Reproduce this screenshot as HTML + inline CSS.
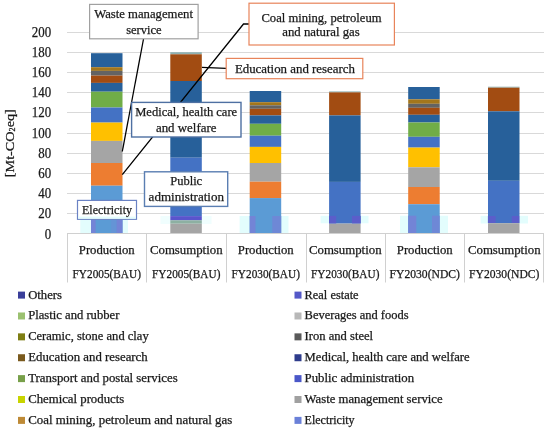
<!DOCTYPE html>
<html><head><meta charset="utf-8"><style>
html,body{margin:0;padding:0;background:#fff;}
body{width:550px;height:431px;overflow:hidden;}
svg{display:block;font-family:"Liberation Serif", serif;}
text{stroke:#1a1a1a;stroke-width:0.25px;}
svg{will-change:transform;}
</style></head><body>
<svg width="550" height="431" viewBox="0 0 550 431">
<rect width="550" height="431" fill="#fff"/>
<line x1="67" y1="213.5" x2="544" y2="213.5" stroke="#D9D9D9" stroke-width="1"/>
<line x1="67" y1="193.5" x2="544" y2="193.5" stroke="#D9D9D9" stroke-width="1"/>
<line x1="67" y1="173.5" x2="544" y2="173.5" stroke="#D9D9D9" stroke-width="1"/>
<line x1="67" y1="153.5" x2="544" y2="153.5" stroke="#D9D9D9" stroke-width="1"/>
<line x1="67" y1="133.5" x2="544" y2="133.5" stroke="#D9D9D9" stroke-width="1"/>
<line x1="67" y1="112.5" x2="544" y2="112.5" stroke="#D9D9D9" stroke-width="1"/>
<line x1="67" y1="92.5" x2="544" y2="92.5" stroke="#D9D9D9" stroke-width="1"/>
<line x1="67" y1="72.5" x2="544" y2="72.5" stroke="#D9D9D9" stroke-width="1"/>
<line x1="67" y1="52.5" x2="544" y2="52.5" stroke="#D9D9D9" stroke-width="1"/>
<line x1="67" y1="32.5" x2="544" y2="32.5" stroke="#D9D9D9" stroke-width="1"/>
<text x="51.2" y="238.7" font-size="13.6" text-anchor="end" fill="#1a1a1a" textLength="6.45" lengthAdjust="spacingAndGlyphs">0</text>
<text x="51.2" y="217.7" font-size="13.6" text-anchor="end" fill="#1a1a1a" textLength="12.9" lengthAdjust="spacingAndGlyphs">20</text>
<text x="51.2" y="197.7" font-size="13.6" text-anchor="end" fill="#1a1a1a" textLength="12.9" lengthAdjust="spacingAndGlyphs">40</text>
<text x="51.2" y="177.7" font-size="13.6" text-anchor="end" fill="#1a1a1a" textLength="12.9" lengthAdjust="spacingAndGlyphs">60</text>
<text x="51.2" y="157.7" font-size="13.6" text-anchor="end" fill="#1a1a1a" textLength="12.9" lengthAdjust="spacingAndGlyphs">80</text>
<text x="51.2" y="137.7" font-size="13.6" text-anchor="end" fill="#1a1a1a" textLength="19.35" lengthAdjust="spacingAndGlyphs">100</text>
<text x="51.2" y="116.7" font-size="13.6" text-anchor="end" fill="#1a1a1a" textLength="19.35" lengthAdjust="spacingAndGlyphs">120</text>
<text x="51.2" y="96.7" font-size="13.6" text-anchor="end" fill="#1a1a1a" textLength="19.35" lengthAdjust="spacingAndGlyphs">140</text>
<text x="51.2" y="76.7" font-size="13.6" text-anchor="end" fill="#1a1a1a" textLength="19.35" lengthAdjust="spacingAndGlyphs">160</text>
<text x="51.2" y="56.7" font-size="13.6" text-anchor="end" fill="#1a1a1a" textLength="19.35" lengthAdjust="spacingAndGlyphs">180</text>
<text x="51.2" y="36.7" font-size="13.6" text-anchor="end" fill="#1a1a1a" textLength="19.35" lengthAdjust="spacingAndGlyphs">200</text>
<rect x="80.30" y="219.30" width="47.70" height="14.00" fill="#E3FDFD"/>
<rect x="160.50" y="216.00" width="51.00" height="8.00" fill="#F0FEFE"/>
<rect x="239.60" y="216.00" width="48.90" height="17.30" fill="#E3FDFD"/>
<rect x="320.60" y="215.80" width="47.90" height="7.50" fill="#E3FDFD"/>
<rect x="400.00" y="215.70" width="48.00" height="17.60" fill="#E3FDFD"/>
<rect x="480.60" y="215.80" width="47.40" height="7.70" fill="#E3FDFD"/>
<rect x="91.00" y="53.20" width="31.50" height="14.00" fill="#27609A"/>
<rect x="91.00" y="67.20" width="31.50" height="3.70" fill="#A3761C"/>
<rect x="91.00" y="70.90" width="31.50" height="4.70" fill="#636363"/>
<rect x="91.00" y="75.60" width="31.50" height="7.30" fill="#A24C12"/>
<rect x="91.00" y="82.90" width="31.50" height="8.80" fill="#27609A"/>
<rect x="91.00" y="91.70" width="31.50" height="15.80" fill="#70AD47"/>
<rect x="91.00" y="107.50" width="31.50" height="15.10" fill="#4472C4"/>
<rect x="91.00" y="122.60" width="31.50" height="18.30" fill="#FFC000"/>
<rect x="91.00" y="140.90" width="31.50" height="22.10" fill="#A5A5A5"/>
<rect x="91.00" y="163.00" width="31.50" height="22.70" fill="#ED7D31"/>
<rect x="91.00" y="185.70" width="31.50" height="47.80" fill="#5B9BD5"/>
<rect x="170.30" y="52.20" width="31.50" height="2.10" fill="#8FB0B0"/>
<rect x="170.30" y="54.30" width="31.50" height="26.70" fill="#A24C12"/>
<rect x="170.30" y="81.00" width="31.50" height="76.70" fill="#27609A"/>
<rect x="170.30" y="157.70" width="31.50" height="58.40" fill="#4472C4"/>
<rect x="170.30" y="216.10" width="31.50" height="4.20" fill="#5A54CC"/>
<rect x="170.30" y="220.30" width="31.50" height="3.40" fill="#8DB0A2"/>
<rect x="170.30" y="223.70" width="31.50" height="9.80" fill="#A5A5A5"/>
<rect x="249.70" y="91.00" width="31.50" height="11.20" fill="#27609A"/>
<rect x="249.70" y="102.20" width="31.50" height="3.10" fill="#A3761C"/>
<rect x="249.70" y="105.30" width="31.50" height="3.50" fill="#636363"/>
<rect x="249.70" y="108.80" width="31.50" height="6.60" fill="#A24C12"/>
<rect x="249.70" y="115.40" width="31.50" height="8.40" fill="#27609A"/>
<rect x="249.70" y="123.80" width="31.50" height="11.90" fill="#70AD47"/>
<rect x="249.70" y="135.70" width="31.50" height="11.20" fill="#4472C4"/>
<rect x="249.70" y="146.90" width="31.50" height="16.10" fill="#FFC000"/>
<rect x="249.70" y="163.00" width="31.50" height="18.70" fill="#A5A5A5"/>
<rect x="249.70" y="181.70" width="31.50" height="16.40" fill="#ED7D31"/>
<rect x="249.70" y="198.10" width="31.50" height="35.40" fill="#5B9BD5"/>
<rect x="329.10" y="91.40" width="31.50" height="1.00" fill="#8FB0B0"/>
<rect x="329.10" y="92.40" width="31.50" height="23.00" fill="#A24C12"/>
<rect x="329.10" y="115.40" width="31.50" height="66.50" fill="#27609A"/>
<rect x="329.10" y="181.90" width="31.50" height="41.70" fill="#4472C4"/>
<rect x="329.10" y="223.60" width="31.50" height="9.90" fill="#A5A5A5"/>
<rect x="408.20" y="87.00" width="31.50" height="12.30" fill="#27609A"/>
<rect x="408.20" y="99.30" width="31.50" height="4.50" fill="#A3761C"/>
<rect x="408.20" y="103.80" width="31.50" height="4.00" fill="#636363"/>
<rect x="408.20" y="107.80" width="31.50" height="7.00" fill="#A24C12"/>
<rect x="408.20" y="114.80" width="31.50" height="7.70" fill="#27609A"/>
<rect x="408.20" y="122.50" width="31.50" height="14.30" fill="#70AD47"/>
<rect x="408.20" y="136.80" width="31.50" height="10.80" fill="#4472C4"/>
<rect x="408.20" y="147.60" width="31.50" height="19.70" fill="#FFC000"/>
<rect x="408.20" y="167.30" width="31.50" height="19.70" fill="#A5A5A5"/>
<rect x="408.20" y="187.00" width="31.50" height="17.20" fill="#ED7D31"/>
<rect x="408.20" y="204.20" width="31.50" height="29.30" fill="#5B9BD5"/>
<rect x="488.00" y="86.70" width="31.50" height="1.00" fill="#8FB0B0"/>
<rect x="488.00" y="87.70" width="31.50" height="23.60" fill="#A24C12"/>
<rect x="488.00" y="111.30" width="31.50" height="69.50" fill="#27609A"/>
<rect x="488.00" y="180.80" width="31.50" height="42.40" fill="#4472C4"/>
<rect x="488.00" y="223.20" width="31.50" height="10.30" fill="#A5A5A5"/>
<rect x="91.00" y="219.30" width="4.60" height="14.20" fill="#7384D6"/>
<rect x="111.20" y="219.30" width="5.30" height="14.20" fill="#6494D6"/>
<rect x="116.50" y="219.30" width="6.00" height="14.20" fill="#7384D6"/>
<rect x="249.70" y="216.00" width="5.80" height="17.50" fill="#7384D6"/>
<rect x="272.30" y="216.00" width="8.90" height="17.50" fill="#6E88D6"/>
<rect x="329.00" y="215.90" width="7.20" height="7.50" fill="#5B5ECA"/>
<rect x="352.00" y="215.90" width="8.70" height="7.50" fill="#5B5ECA"/>
<rect x="408.20" y="215.70" width="8.10" height="17.80" fill="#7384D6"/>
<rect x="432.00" y="215.70" width="7.70" height="17.80" fill="#6E88D6"/>
<rect x="487.90" y="216.00" width="7.70" height="7.00" fill="#5B5ECA"/>
<rect x="511.80" y="216.00" width="7.40" height="7.00" fill="#5B5ECA"/>
<line x1="67" y1="233.5" x2="544" y2="233.5" stroke="#D0D0D0" stroke-width="1"/>
<line x1="67.5" y1="233.5" x2="67.5" y2="282.5" stroke="#D0D0D0" stroke-width="1"/>
<line x1="146.5" y1="233.5" x2="146.5" y2="282.5" stroke="#D0D0D0" stroke-width="1"/>
<line x1="226.5" y1="233.5" x2="226.5" y2="282.5" stroke="#D0D0D0" stroke-width="1"/>
<line x1="306.5" y1="233.5" x2="306.5" y2="282.5" stroke="#D0D0D0" stroke-width="1"/>
<line x1="385.5" y1="233.5" x2="385.5" y2="282.5" stroke="#D0D0D0" stroke-width="1"/>
<line x1="464.5" y1="233.5" x2="464.5" y2="282.5" stroke="#D0D0D0" stroke-width="1"/>
<line x1="543.5" y1="233.5" x2="543.5" y2="282.5" stroke="#D0D0D0" stroke-width="1"/>
<text x="106.75" y="254" font-size="12.5" text-anchor="middle" fill="#1a1a1a" textLength="55.9" lengthAdjust="spacingAndGlyphs">Production</text>
<text x="106.75" y="278.4" font-size="11.5" text-anchor="middle" fill="#1a1a1a" textLength="68.3" lengthAdjust="spacingAndGlyphs">FY2005(BAU)</text>
<text x="186.25" y="254" font-size="12.5" text-anchor="middle" fill="#1a1a1a" textLength="72.6" lengthAdjust="spacingAndGlyphs">Comsumption</text>
<text x="186.25" y="278.4" font-size="11.5" text-anchor="middle" fill="#1a1a1a" textLength="68.3" lengthAdjust="spacingAndGlyphs">FY2005(BAU)</text>
<text x="265.75" y="254" font-size="12.5" text-anchor="middle" fill="#1a1a1a" textLength="55.9" lengthAdjust="spacingAndGlyphs">Production</text>
<text x="265.75" y="278.4" font-size="11.5" text-anchor="middle" fill="#1a1a1a" textLength="68.3" lengthAdjust="spacingAndGlyphs">FY2030(BAU)</text>
<text x="345.25" y="254" font-size="12.5" text-anchor="middle" fill="#1a1a1a" textLength="72.6" lengthAdjust="spacingAndGlyphs">Comsumption</text>
<text x="345.25" y="278.4" font-size="11.5" text-anchor="middle" fill="#1a1a1a" textLength="68.3" lengthAdjust="spacingAndGlyphs">FY2030(BAU)</text>
<text x="424.75" y="254" font-size="12.5" text-anchor="middle" fill="#1a1a1a" textLength="55.9" lengthAdjust="spacingAndGlyphs">Production</text>
<text x="424.75" y="278.4" font-size="11.5" text-anchor="middle" fill="#1a1a1a" textLength="70.3" lengthAdjust="spacingAndGlyphs">FY2030(NDC)</text>
<text x="504.25" y="254" font-size="12.5" text-anchor="middle" fill="#1a1a1a" textLength="72.6" lengthAdjust="spacingAndGlyphs">Comsumption</text>
<text x="504.25" y="278.4" font-size="11.5" text-anchor="middle" fill="#1a1a1a" textLength="70.3" lengthAdjust="spacingAndGlyphs">FY2030(NDC)</text>
<text x="0" y="0" font-size="13.2" text-anchor="middle" fill="#1a1a1a" textLength="68" lengthAdjust="spacingAndGlyphs" transform="translate(14.2,143.2) rotate(-90)">[Mt-CO<tspan font-size="7.5" dy="1.2">2</tspan><tspan dy="-1.2">eq]</tspan></text>
<line x1="143.5" y1="39" x2="122.3" y2="151.5" stroke="#000" stroke-width="1.3"/>
<polyline points="249,24 243.5,24 122.3,174.7" fill="none" stroke="#000" stroke-width="1.3"/>
<line x1="202" y1="67.3" x2="226.2" y2="68.4" stroke="#000" stroke-width="1.3"/>
<rect x="89.6" y="4.4" width="108.5" height="34.4" fill="#fff" stroke="#A0A0A0" stroke-width="1.2"/>
<text x="143.6" y="18.4" font-size="12.5" text-anchor="middle" fill="#1a1a1a" textLength="98.8" lengthAdjust="spacingAndGlyphs">Waste management</text>
<text x="143.9" y="34.2" font-size="12.5" text-anchor="middle" fill="#1a1a1a" textLength="35.5" lengthAdjust="spacingAndGlyphs">service</text>
<rect x="249" y="3.2" width="145.39999999999998" height="41.8" fill="#fff" stroke="#E8845A" stroke-width="1.2"/>
<text x="321.5" y="21.5" font-size="12.5" text-anchor="middle" fill="#1a1a1a" textLength="120.1" lengthAdjust="spacingAndGlyphs">Coal mining, petroleum</text>
<text x="321.0" y="36.0" font-size="12.5" text-anchor="middle" fill="#1a1a1a" textLength="77.6" lengthAdjust="spacingAndGlyphs">and natural gas</text>
<rect x="226.2" y="58.4" width="136.60000000000002" height="20.300000000000004" fill="#fff" stroke="#E8845A" stroke-width="1.2"/>
<text x="294.9" y="72.9" font-size="12.5" text-anchor="middle" fill="#1a1a1a" textLength="120.0" lengthAdjust="spacingAndGlyphs">Education and research</text>
<rect x="131.6" y="102.4" width="109.4" height="34.599999999999994" fill="#fff" stroke="#4E70A2" stroke-width="1.4"/>
<text x="186.2" y="116.2" font-size="12.5" text-anchor="middle" fill="#1a1a1a" textLength="102.0" lengthAdjust="spacingAndGlyphs">Medical, health care</text>
<text x="186.2" y="131.8" font-size="12.5" text-anchor="middle" fill="#1a1a1a" textLength="60.5" lengthAdjust="spacingAndGlyphs">and welfare</text>
<rect x="144.5" y="171.8" width="83.19999999999999" height="34.599999999999994" fill="#fff" stroke="#5A7EB2" stroke-width="1.4"/>
<text x="186.2" y="185.0" font-size="12.5" text-anchor="middle" fill="#1a1a1a">Public</text>
<text x="186.3" y="201.0" font-size="12.5" text-anchor="middle" fill="#1a1a1a" textLength="75.4" lengthAdjust="spacingAndGlyphs">administration</text>
<rect x="77.5" y="200.4" width="59.0" height="18.900000000000006" fill="#fff" stroke="#6A82C4" stroke-width="1.2"/>
<rect x="78.20" y="216.60" width="57.60" height="2.10" fill="#E3FDFD"/>
<text x="107.0" y="213.8" font-size="12.5" text-anchor="middle" fill="#1a1a1a" textLength="50.0" lengthAdjust="spacingAndGlyphs">Electricity</text>
<rect x="18.00" y="291.60" width="7.00" height="7.00" fill="#3A3F9A"/>
<text x="28.2" y="298.6" font-size="11.9" text-anchor="start" fill="#1a1a1a" textLength="33.8" lengthAdjust="spacingAndGlyphs">Others</text>
<rect x="294.50" y="291.60" width="7.00" height="7.00" fill="#5459C8"/>
<text x="304.6" y="298.6" font-size="11.9" text-anchor="start" fill="#1a1a1a" textLength="54.0" lengthAdjust="spacingAndGlyphs">Real estate</text>
<rect x="18.00" y="312.48" width="7.00" height="7.00" fill="#9BC170"/>
<text x="28.2" y="319.48" font-size="11.9" text-anchor="start" fill="#1a1a1a" textLength="91.2" lengthAdjust="spacingAndGlyphs">Plastic and rubber</text>
<rect x="294.50" y="312.48" width="7.00" height="7.00" fill="#B8B8B8"/>
<text x="304.6" y="319.48" font-size="11.9" text-anchor="start" fill="#1a1a1a" textLength="104.0" lengthAdjust="spacingAndGlyphs">Beverages and foods</text>
<rect x="18.00" y="333.36" width="7.00" height="7.00" fill="#7E7E14"/>
<text x="28.2" y="340.36" font-size="11.9" text-anchor="start" fill="#1a1a1a" textLength="120.5" lengthAdjust="spacingAndGlyphs">Ceramic, stone and clay</text>
<rect x="294.50" y="333.36" width="7.00" height="7.00" fill="#5A5A5A"/>
<text x="304.6" y="340.36" font-size="11.9" text-anchor="start" fill="#1a1a1a" textLength="68.5" lengthAdjust="spacingAndGlyphs">Iron and steel</text>
<rect x="18.00" y="354.24" width="7.00" height="7.00" fill="#7A5A1E"/>
<text x="28.2" y="361.24" font-size="11.9" text-anchor="start" fill="#1a1a1a" textLength="119.5" lengthAdjust="spacingAndGlyphs">Education and research</text>
<rect x="294.50" y="354.24" width="7.00" height="7.00" fill="#2E3C8C"/>
<text x="304.6" y="361.24" font-size="11.9" text-anchor="start" fill="#1a1a1a" textLength="165.0" lengthAdjust="spacingAndGlyphs">Medical, health care and welfare</text>
<rect x="18.00" y="375.12" width="7.00" height="7.00" fill="#78A04A"/>
<text x="28.2" y="382.12" font-size="11.9" text-anchor="start" fill="#1a1a1a" textLength="149.5" lengthAdjust="spacingAndGlyphs">Transport and postal services</text>
<rect x="294.50" y="375.12" width="7.00" height="7.00" fill="#4A57C8"/>
<text x="304.6" y="382.12" font-size="11.9" text-anchor="start" fill="#1a1a1a" textLength="109.5" lengthAdjust="spacingAndGlyphs">Public administration</text>
<rect x="18.00" y="396.00" width="7.00" height="7.00" fill="#C8D400"/>
<text x="28.2" y="403.0" font-size="11.9" text-anchor="start" fill="#1a1a1a" textLength="96.0" lengthAdjust="spacingAndGlyphs">Chemical products</text>
<rect x="294.50" y="396.00" width="7.00" height="7.00" fill="#A0A0A0"/>
<text x="304.6" y="403.0" font-size="11.9" text-anchor="start" fill="#1a1a1a" textLength="138.0" lengthAdjust="spacingAndGlyphs">Waste management service</text>
<rect x="18.00" y="416.88" width="7.00" height="7.00" fill="#BE8A36"/>
<text x="28.2" y="423.88" font-size="11.9" text-anchor="start" fill="#1a1a1a" textLength="204.0" lengthAdjust="spacingAndGlyphs">Coal mining, petroleum and natural gas</text>
<rect x="294.50" y="416.88" width="7.00" height="7.00" fill="#6A80D8"/>
<text x="304.6" y="423.88" font-size="11.9" text-anchor="start" fill="#1a1a1a" textLength="50.0" lengthAdjust="spacingAndGlyphs">Electricity</text>
</svg>
</body></html>
